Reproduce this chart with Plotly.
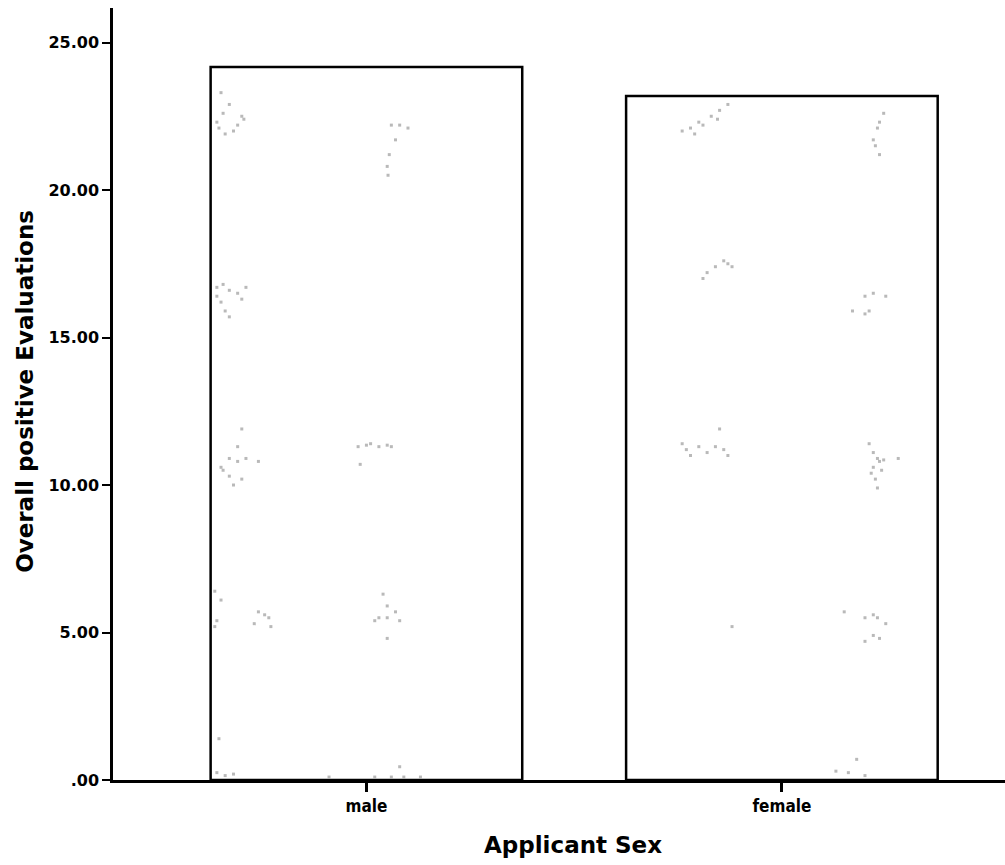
import plotly.graph_objects as go

categories = ["male", "female"]
cat_pos = [0, 1]
bar_values = [24.17, 23.19]

y_tickvals = [0, 5, 10, 15, 20, 25]
y_ticktext = [".00", "5.00", "10.00", "15.00", "20.00", "25.00"]

# jittered individual observations (x = category position + jitter, y = value)
pts_x = [
    -0.36, -0.345, -0.33, -0.35, -0.31, -0.30, -0.34, -0.32, -0.295, -0.355,
    -0.36, -0.345, -0.33, -0.31, -0.29, -0.35, -0.34, -0.33, -0.36, -0.30,
    0.06, 0.08, 0.10, 0.07, 0.055, 0.05, 0.052,
    -0.30, -0.31, -0.33, -0.31, -0.29, -0.26, -0.345, -0.33, -0.32, -0.30, -0.35,
    -0.02, 0.0, 0.01, 0.03, 0.05, 0.06, -0.015,
    -0.365, -0.35, -0.36, -0.365, -0.26, -0.27, -0.245, -0.23, -0.235,
    0.04, 0.05, 0.03, 0.05, 0.07, 0.08, 0.02, 0.05,
    -0.36, -0.34, -0.32, -0.355,
    -0.09, 0.02, 0.06, 0.08, 0.09, 0.13,
    0.76, 0.78, 0.80, 0.81, 0.83, 0.85, 0.87, 0.845, 0.79,
    1.245, 1.235, 1.23, 1.22, 1.225, 1.235,
    0.82, 0.84, 0.86, 0.87, 0.88, 0.81,
    1.20, 1.22, 1.25, 1.17, 1.20, 1.21,
    0.76, 0.77, 0.80, 0.82, 0.84, 0.86, 0.87, 0.85, 0.78,
    1.21, 1.22, 1.23, 1.235, 1.22, 1.24, 1.225, 1.23, 1.28, 1.215, 1.245,
    0.88,
    1.15, 1.20, 1.22, 1.23, 1.25, 1.22, 1.20, 1.235,
    1.13, 1.16, 1.20, 1.18,
]
pts_y = [
    22.3, 22.6, 22.9, 23.3, 22.2, 22.5, 21.9, 22.0, 22.4, 22.1,
    16.7, 16.8, 16.6, 16.5, 16.7, 16.2, 15.9, 15.7, 16.4, 16.3,
    22.2, 22.2, 22.1, 21.7, 21.2, 20.8, 20.5,
    11.9, 11.3, 10.9, 10.8, 10.9, 10.8, 10.5, 10.3, 10.0, 10.2, 10.6,
    11.3, 11.35, 11.4, 11.3, 11.35, 11.3, 10.7,
    6.4, 6.1, 5.4, 5.2, 5.7, 5.3, 5.6, 5.2, 5.5,
    6.3, 5.9, 5.5, 5.5, 5.7, 5.4, 5.4, 4.8,
    0.25, 0.15, 0.2, 1.4,
    0.1, 0.1, 0.1, 0.45, 0.1, 0.1,
    22.0, 22.1, 22.3, 22.2, 22.5, 22.7, 22.9, 22.4, 21.9,
    22.6, 22.3, 22.1, 21.7, 21.5, 21.2,
    17.2, 17.4, 17.6, 17.5, 17.4, 17.0,
    16.4, 16.5, 16.4, 15.9, 15.8, 15.9,
    11.4, 11.2, 11.3, 11.1, 11.3, 11.2, 11.0, 11.9, 11.0,
    11.4, 11.1, 10.9, 10.8, 10.6, 10.5, 10.2, 9.9, 10.9, 10.4, 10.85,
    5.2,
    5.7, 5.5, 5.6, 5.5, 5.3, 4.9, 4.7, 4.8,
    0.3, 0.25, 0.15, 0.7,
]

fig = go.Figure()
fig.add_trace(go.Bar(
    x=cat_pos, y=bar_values, width=0.75,
    marker=dict(color="white", line=dict(color="black", width=2.5)),
    showlegend=False, hoverinfo="skip",
))
fig.add_trace(go.Scatter(
    x=pts_x, y=pts_y, mode="markers",
    marker=dict(size=3, color="#a8a8a8", symbol="square", opacity=0.8),
    showlegend=False,
))

fig.update_layout(
    width=1005, height=865,
    margin=dict(l=113, r=0, t=8, b=85),
    paper_bgcolor="white", plot_bgcolor="white",
    font=dict(family="DejaVu Sans", color="black"),
    xaxis=dict(
        range=[-0.61, 1.537], tickvals=cat_pos, ticktext=categories,
        showline=True, linecolor="black", linewidth=2.5,
        ticks="outside", ticklen=9, tickwidth=3, tickcolor="black",
        tickfont=dict(family="DejaVu Sans Condensed", size=17, weight="bold"),
        showgrid=False, zeroline=False,
    ),
    yaxis=dict(
        range=[0, 26.17], tickvals=y_tickvals, ticktext=y_ticktext,
        showline=True, linecolor="black", linewidth=2.5,
        ticks="outside", ticklen=8, tickwidth=2, tickcolor="black",
        tickfont=dict(family="DejaVu Sans", size=16, weight="bold"),
        showgrid=False, zeroline=False,
    ),
    annotations=[
        dict(text="Overall positive Evaluations", xref="paper", yref="paper",
             x=-0.0987, y=0.504, xanchor="center", yanchor="middle", textangle=-90,
             showarrow=False, font=dict(family="DejaVu Sans", size=23, weight="bold")),
        dict(text="Applicant Sex", xref="paper", yref="paper",
             x=0.516, y=-0.084, xanchor="center", yanchor="middle",
             showarrow=False, font=dict(family="DejaVu Sans", size=23, weight="bold")),
    ],
)

fig.write_html("out.html")
